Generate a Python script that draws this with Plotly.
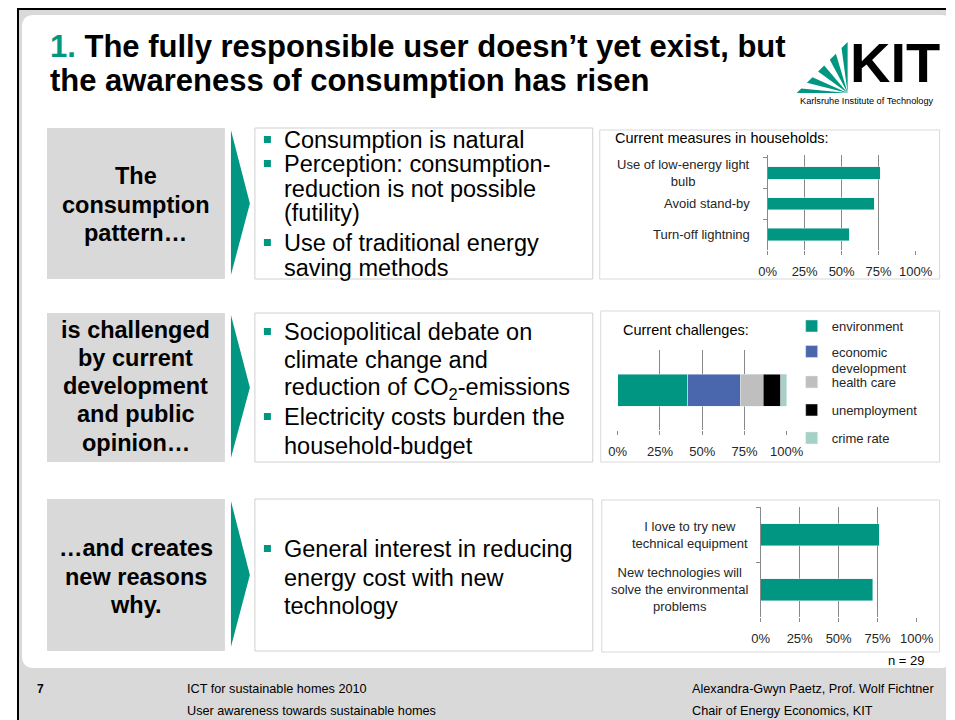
import plotly.graph_objects as go

W, H = 955, 720
# measured placement of the figure in the photographed page
OX, OY, PW = 17.0, 8.0, 929.4


def X(px):
    return (px - OX) / PW


def Y(py):
    return 1 - (py - OY) / H


TEAL = "#009682"
GRID = "#898989"
SANS = "Liberation Sans, Arial, sans-serif"

# ---------------- data ----------------
measures_title = "Current measures in households:"
measures_labels = ["Use of low-energy light<br>bulb", "Avoid stand-by", "Turn-off lightning"]
measures_values = [76, 72, 55]

challenges_title = "Current challenges:"
challenge_category = ["Current challenges"]
challenge_names = ["environment", "economic<br>development", "health care", "unemployment", "crime rate"]
challenge_values = [41.4, 31.0, 13.8, 10.3, 3.4]
challenge_colors = [TEAL, "#4a66ac", "#bfbfbf", "#000000", "#a5d0c5"]

reasons_labels = ["I love to try new<br>technical equipment",
                  "New technologies will<br>solve the environmental<br>problems"]
reasons_values = [76, 72]

pct_ticks = [0, 25, 50, 75, 100]
pct_labels = ["0%", "25%", "50%", "75%", "100%"]

fig = go.Figure()

fig.add_trace(go.Bar(x=measures_values, y=measures_labels, orientation="h",
                     marker=dict(color=TEAL), xaxis="x", yaxis="y",
                     showlegend=False, hoverinfo="skip"))

legend_ids = ["legend", "legend2", "legend3", "legend4", "legend5"]
for name, val, col, lg in zip(challenge_names, challenge_values, challenge_colors, legend_ids):
    fig.add_trace(go.Bar(x=[val], y=challenge_category, orientation="h", name=name,
                         marker=dict(color=col), xaxis="x2", yaxis="y2",
                         legend=lg, hoverinfo="skip"))

fig.add_trace(go.Bar(x=reasons_values, y=reasons_labels, orientation="h",
                     marker=dict(color=TEAL), xaxis="x3", yaxis="y3",
                     showlegend=False, hoverinfo="skip"))


def xax(p0, p1, anchor):
    return dict(domain=[X(p0), X(p1)], anchor=anchor, range=[0, 100],
                tickvals=pct_ticks, ticktext=pct_labels,
                showgrid=True, gridcolor=GRID, gridwidth=1, zeroline=False,
                showline=False, ticks="outside", ticklen=4, tickcolor=GRID,
                tickfont=dict(family=SANS, size=13, color="#262626"),
                ticklabelstandoff=5, fixedrange=True)


def yax(top, bottom, anchor, line=True):
    return dict(domain=[Y(bottom), Y(top)], anchor=anchor, type="category",
                autorange="reversed", showticklabels=False, showgrid=False,
                zeroline=False, showline=line, linecolor=GRID,
                ticks="outside" if line else "", tickson="boundaries",
                ticklen=4, tickcolor=GRID, fixedrange=True)


# ---------------- shapes ----------------
shapes = []


def rect(x0, y0, x1, y1, fill, line=None, lw=1):
    shapes.append(dict(type="rect", xref="paper", yref="paper", layer="below",
                       x0=X(x0), x1=X(x1), y0=Y(y1), y1=Y(y0), fillcolor=fill,
                       line=dict(color=line or "rgba(0,0,0,0)", width=lw if line else 0)))


def poly(pts, fill, layer="below"):
    d = "M " + " L ".join(f"{X(a):.5f},{Y(b):.5f}" for a, b in pts) + " Z"
    shapes.append(dict(type="path", xref="paper", yref="paper", layer=layer, path=d,
                       fillcolor=fill, line=dict(width=0)))


def rrect(x0, y0, x1, y1, r, fill):
    p = (f"M {X(x0 + r)},{Y(y0)} L {X(x1 - r)},{Y(y0)} Q {X(x1)},{Y(y0)} {X(x1)},{Y(y0 + r)} "
         f"L {X(x1)},{Y(y1 - r)} Q {X(x1)},{Y(y1)} {X(x1 - r)},{Y(y1)} "
         f"L {X(x0 + r)},{Y(y1)} Q {X(x0)},{Y(y1)} {X(x0)},{Y(y1 - r)} "
         f"L {X(x0)},{Y(y0 + r)} Q {X(x0)},{Y(y0)} {X(x0 + r)},{Y(y0)} Z")
    shapes.append(dict(type="path", xref="paper", yref="paper", layer="below", path=p,
                       fillcolor=fill, line=dict(width=0)))


# slide frame
shapes.append(dict(type="rect", xref="paper", yref="paper", layer="below",
                   x0=0, x1=1, y0=0, y1=Y(9), fillcolor="#d9d9d9", line=dict(width=0)))
shapes.append(dict(type="line", xref="paper", yref="paper", layer="below",
                   x0=0, x1=1, y0=Y(9), y1=Y(9), line=dict(color="black", width=2)))
shapes.append(dict(type="line", xref="paper", yref="paper", layer="below",
                   x0=X(18), x1=X(18), y0=Y(9), y1=0, line=dict(color="black", width=2)))
rrect(22, 15, 953, 668, 12, "white")

# rows
rows = [(128, 279), (313, 462), (499, 651)]
for (t, b) in rows:
    rect(47, t, 225, b, "#d9d9d9")
    poly([(231, t + 2), (250, (t + b) / 2), (231, b - 4)], TEAL)
    rect(255, t, 593, b, "white", "#d0d0d0")

# chart boxes
rect(600, 130, 940, 279, "white", "#d9d9d9")
rect(601, 311, 940, 462, "white", "#d9d9d9")
rect(602, 500, 940, 652, "white", "#d9d9d9")

# bullets
for yb in [140, 164, 243, 332, 417, 549]:
    rect(264, yb - 4, 271, yb + 3, TEAL)

# KIT logo fan
apex = (848, 93)
h0, h1 = (797, 93), (848, 42)
for a, b in [(0.0, 0.09), (0.2, 0.31), (0.42, 0.54), (0.65, 0.77), (0.88, 1.0)]:
    pa = (h0[0] + (h1[0] - h0[0]) * a, h0[1] + (h1[1] - h0[1]) * a)
    pb = (h0[0] + (h1[0] - h0[0]) * b, h0[1] + (h1[1] - h0[1]) * b)
    poly([apex, pa, pb], TEAL, layer="above")

# ---------------- annotations ----------------
ann = []


def txt(s, x, y, size, bold=False, anchor="left", color="black", family=SANS, align="left"):
    ann.append(dict(text=f"<b>{s}</b>" if bold else s, x=X(x), y=Y(y), xref="paper", yref="paper",
                    xanchor=anchor, yanchor="middle", showarrow=False, align=align,
                    font=dict(family=family, size=size, color=color)))


# title
txt("<span style='color:#009682'>1.</span> The fully responsible user doesn’t yet exist, but", 48, 46, 31, bold=True)
txt("the awareness of consumption has risen", 48, 81, 31, bold=True)

# logo text
txt("KIT", 895, 63, 56, bold=True, anchor="center")
txt("Karlsruhe Institute of Technology", 867, 101, 9.2, anchor="center")

# left grey boxes
for s, y in [("The", 176), ("consumption", 205), ("pattern…", 233),
             ("is challenged", 330), ("by current", 358), ("development", 386),
             ("and public", 414), ("opinion…", 443),
             ("…and creates", 548), ("new reasons", 577), ("why.", 605)]:
    txt(s, 136, y, 23.5, bold=True, anchor="center")

# middle text boxes
for s, y in [("Consumption is natural", 140), ("Perception: consumption-", 164),
             ("reduction is not possible", 189), ("(futility)", 213),
             ("Use of traditional energy", 243), ("saving methods", 268),
             ("Sociopolitical debate on", 332), ("climate change and", 360),
             ("reduction of CO<sub>2</sub>-emissions", 388),
             ("Electricity costs burden the", 417), ("household-budget", 446),
             ("General interest in reducing", 549), ("energy cost with new", 578),
             ("technology", 606)]:
    txt(s, 282, y, 23.5)

# chart titles
txt(measures_title, 613, 138, 14.5)
txt(challenges_title, 621, 330, 14.5)
txt("n = 29", 927, 660, 13, anchor="right")

# category labels
for lab in measures_labels:
    ann.append(dict(text=lab, x=X(752), xref="paper", y=lab, yref="y", xanchor="right",
                    yanchor="middle", showarrow=False, align="center",
                    font=dict(family=SANS, size=13, color="#262626")))
for lab in reasons_labels:
    ann.append(dict(text=lab, x=X(750), xref="paper", y=lab, yref="y3", xanchor="right",
                    yanchor="middle", showarrow=False, align="center",
                    font=dict(family=SANS, size=13, color="#262626")))

# footer
txt("7", 35, 689, 12, bold=True)
txt("ICT for sustainable homes 2010", 185, 689, 12.7)
txt("User awareness towards sustainable homes", 185, 711, 12.7)
txt("Alexandra-Gwyn Paetz, Prof. Wolf Fichtner", 690, 689, 12.7)
txt("Chair of Energy Economics, KIT", 690, 711, 12.7)

# legends (one per item for exact placement)
legend_pos = [326, 360, 382, 410, 438]
legends = {}
for lg, yp in zip(legend_ids, legend_pos):
    legends[lg] = dict(x=X(792), xanchor="left", y=Y(yp), yanchor="middle",
                       bgcolor="rgba(0,0,0,0)", borderwidth=0,
                       font=dict(family=SANS, size=13, color="#262626"),
                       valign="top", itemclick=False, itemdoubleclick=False)

fig.update_layout(
    width=W, height=H, autosize=False,
    margin=dict(l=0, r=0, t=0, b=0),
    paper_bgcolor="white", plot_bgcolor="rgba(0,0,0,0)",
    barmode="stack", bargap=0.6,
    xaxis=xax(768, 916, "y"), yaxis=yax(155, 250, "x"),
    xaxis2=xax(618, 787, "y2"), yaxis2=yax(350, 430, "x2", line=False),
    xaxis3=xax(761, 917, "y3"), yaxis3=yax(507, 617, "x3"),
    shapes=shapes, annotations=ann,
    hovermode=False,
    **legends,
)

fig.write_html("out.html", config={"displayModeBar": False})
